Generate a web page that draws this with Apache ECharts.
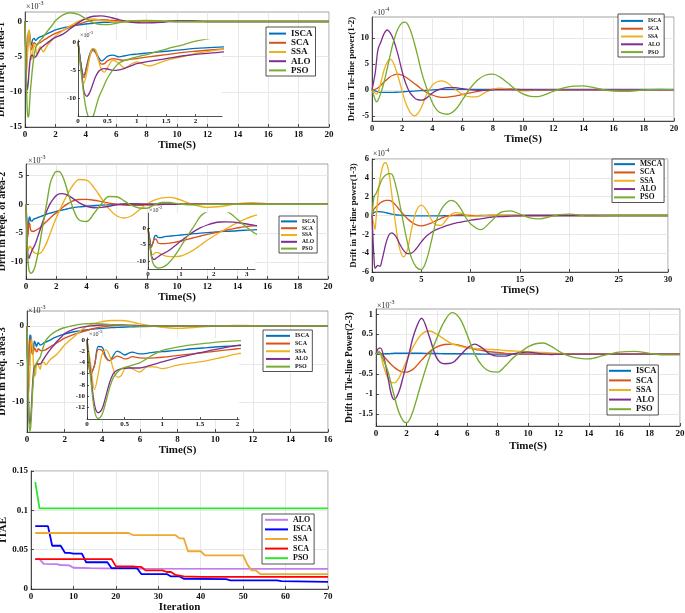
<!DOCTYPE html>
<html><head><meta charset="utf-8">
<script src="https://cdn.jsdelivr.net/npm/echarts@6/dist/echarts.min.js"></script>
<style>html,body{margin:0;padding:0;background:#fff}#c{width:685px;height:613px}</style>
</head><body><div id="c"></div>
<script>
// ---------------- DATA ----------------
const algNames = ['ISCA','SCA','SSA','ALO','PSO'];
const algNames13 = ['MSCA','SCA','SSA','ALO','PSO'];
const itaeNames = ['ALO','ISCA','SSA','SCA','PSO'];

// Drift in freq. of area-1 (x1e-3)
const t_area1 = [0,0.05,0.1,0.15,0.2,0.25,0.3,0.35,0.4,0.45,0.5,0.6,0.7,0.8,0.9,1.0,1.2,1.5,1.8,2.0,2.5,3,3.5,4,4.5,5,5.5,6,7,8,9,10,11,12,14,16,18,20];
const area1_ISCA = [0,-4,-6,-4.2,-2.2,-1.3,-1.7,-2.8,-3.4,-3.1,-2.6,-2.4,-2.7,-2.5,-2.3,-2.2,-2.0,-1.7,-1.4,-1.2,-0.9,-0.7,-0.5,-0.35,-0.25,-0.15,-0.1,-0.05,0,0.05,0.05,0,0,0,0,0,0,0];
const area1_SCA = [0,-4.2,-6.4,-4.5,-2.5,-1.6,-2.0,-3.2,-4.0,-3.9,-3.4,-3.0,-3.2,-3.3,-3.1,-3.0,-2.7,-2.3,-1.9,-1.7,-1.25,-0.8,-0.4,-0.05,0.2,0.25,0.2,0.1,0,-0.05,0,0,0,0,0,0,0,0];
const area1_SSA = [0,-4.8,-7.4,-5.5,-2.8,-1.2,-1.5,-3.4,-5.0,-5.4,-4.6,-3.3,-3.9,-4.7,-4.0,-3.6,-4.3,-3.3,-2.6,-2.1,-1.3,-0.6,0,0.35,0.35,0.2,0.05,-0.05,-0.1,-0.1,0,0.05,0,0,0,0,0,0];
const area1_ALO = [0,-4,-8.8,-9.7,-9.0,-7.6,-6.2,-5.3,-4.9,-4.8,-4.85,-5.1,-5.0,-4.7,-4.3,-3.9,-3.5,-3.0,-2.5,-2.25,-1.8,-1.0,-0.2,0.4,0.75,0.8,0.65,0.35,-0.1,-0.2,-0.1,0.1,0.1,0,0,0,0,0];
const area1_PSO = [0,-5,-9.5,-12.5,-13.6,-13.4,-11.8,-10,-8.8,-7.6,-6.5,-4.9,-3.8,-3.3,-3.0,-2.7,-2.2,-1.3,-0.5,0.1,0.95,1.25,1.0,0.4,-0.2,-0.45,-0.45,-0.25,0.1,0.15,0.05,0,0,0,0,0,0,0];

// Drift in Tie-line power(1-2) (x1e-4)
const t_tie12 = [0,0.2,0.3,0.4,0.6,0.8,1.0,1.2,1.4,1.7,2.0,2.2,2.5,2.8,3.0,3.3,3.6,4.0,4.3,4.6,5.0,5.5,6.0,6.5,7.0,7.5,8.0,8.5,9.0,9.5,10,10.5,11,11.5,12,13,14,15,16,17,18,19,20];
const tie12_ISCA = [0,-0.2,-0.3,-0.4,-0.5,-0.5,-0.5,-0.5,-0.5,-0.45,-0.4,-0.35,-0.3,-0.25,-0.2,-0.15,-0.1,0,0.05,0.1,0.1,0.1,0.1,0.1,0.1,0.1,0.1,0.1,0.1,0.1,0.1,0.1,0.1,0.1,0.1,0.1,0.1,0.1,0.1,0.1,0.1,0.1,0.1];
const tie12_SCA = [0,0.1,0.2,0.4,0.9,1.5,2.0,2.5,2.8,3.0,2.8,2.5,1.9,1.2,0.8,0.1,-0.5,-1.0,-1.3,-1.45,-1.4,-1.2,-0.9,-0.6,-0.3,-0.05,0.1,0.2,0.2,0.1,0,-0.05,-0.1,-0.05,0,0,0,0,0,0,0,0,0];
const tie12_SSA = [0,-0.6,-0.8,-0.5,1.5,3.8,5.3,5.9,5.3,2.8,-0.3,-2.3,-4.2,-5.0,-4.7,-3.2,-1.0,0.9,1.5,1.7,1.3,0.1,-0.9,-1.35,-1.3,-0.5,0.1,0.3,0.15,-0.05,-0.2,-0.15,-0.05,0,0.05,0,0,0,0,0,0,0,0];
const tie12_ALO = [0,3.0,5.5,7.8,9.3,10.8,11.5,11.0,9.8,7.0,3.5,1.5,-0.5,-1.5,-1.9,-2.0,-1.6,-0.6,-0.1,0.2,0.4,0.4,0.2,0,-0.1,-0.1,-0.05,0,0,0,0,0,0,0,0,0,0,0,0,0,0,0,0];
const tie12_PSO = [0,-1.8,-2.3,-2.0,-0.5,1.5,4.0,6.6,9.0,11.6,12.9,13.0,11.8,9.0,6.8,3.2,0.5,-2.5,-3.9,-4.5,-4.7,-3.9,-1.9,0.3,1.9,2.8,3.0,2.4,1.3,0.1,-0.8,-1.25,-1.3,-0.9,-0.3,0.55,0.75,0.2,-0.25,-0.3,0,0.1,0.05];

// Drift in freqe. of area-2 (x1e-3)
const t_area2 = [0,0.05,0.1,0.15,0.2,0.25,0.3,0.4,0.5,0.6,0.8,1.0,1.2,1.4,1.6,1.8,2.0,2.2,2.4,2.6,2.8,3.0,3.2,3.5,4,4.5,5,5.5,6,6.5,7,7.5,8,8.5,9,9.5,10,11,12,13,14,15,16,18,20];
const area2_ISCA = [0,-3,-5.3,-4.5,-2.5,-2.2,-2.8,-2.9,-2.6,-2.5,-2.3,-2.1,-1.9,-1.7,-1.55,-1.4,-1.25,-1.1,-1.0,-0.9,-0.75,-0.65,-0.55,-0.45,-0.35,-0.25,-0.15,-0.1,-0.05,0,0,0,0,0,0,0,0,0,0,0,0,0,0,0,0];
const area2_SCA = [0,-3.5,-5.9,-4.5,-3.3,-3.4,-4.4,-4.7,-4.7,-4.6,-4.3,-3.9,-3.4,-2.9,-2.4,-1.9,-1.5,-1.05,-0.6,-0.2,0.15,0.45,0.65,0.82,0.85,0.7,0.45,0.2,0,-0.15,-0.2,-0.2,-0.15,-0.1,-0.05,0,0,0,0,0,0,0,0,0,0];
const area2_SSA = [0,-4.5,-7.5,-8.0,-7.6,-7.3,-7.4,-7.8,-8.3,-8.5,-8.6,-8.4,-7.6,-6.5,-5.1,-3.7,-2.4,-1.2,-0.1,1.0,2.0,2.9,3.6,4.3,4.2,2.9,1.0,-0.8,-2.0,-2.4,-2.0,-1.0,0,0.7,1.1,1.2,0.95,0,-0.55,-0.35,0.1,0.25,0.1,0,0];
const area2_ALO = [0,-4,-8,-9.3,-9.4,-9.0,-8.7,-8.0,-7.5,-7.0,-5.5,-3.9,-2.4,-1.0,0.1,0.9,1.5,1.8,1.85,1.75,1.5,1.2,0.85,0.3,-0.35,-0.6,-0.55,-0.35,-0.1,0.05,0.1,0.05,0,0,0,0,0,0,0,0,0,0,0,0,0];
const area2_PSO = [0,-5,-8.5,-10.5,-11.4,-11.8,-12.0,-11.9,-11.5,-10.8,-8.5,-5.5,-2.4,0.6,3.6,5.0,5.7,5.7,5.0,3.6,1.8,0.2,-1.3,-2.7,-3.0,-1.6,0.1,1.35,1.3,0.6,-0.2,-0.65,-0.7,-0.1,0.3,0.3,0.1,-0.1,0,0,0,0,0,0,0];

// Drift in Tie-line power(1-3) (x1e-4)
const t_tie13 = [0,0.2,0.3,0.4,0.6,0.8,1.0,1.2,1.4,1.7,2.0,2.4,2.8,3.2,3.6,4.0,4.5,5.0,5.5,6.0,6.5,7.0,7.5,8.0,8.5,9.0,9.5,10,11,12,13,14,15,16,17,18,19,20,22,25,30];
const tie13_MSCA = [0,0.3,0.35,0.4,0.42,0.4,0.38,0.35,0.3,0.22,0.15,0.08,0.03,0,-0.02,-0.03,-0.03,-0.03,-0.03,-0.03,-0.03,-0.03,-0.02,-0.02,-0.02,-0.02,-0.01,-0.01,0,0,0,0,0,0,0,0,0,0,0,0,0];
const tie13_SCA = [0,0.7,0.8,0.9,1.1,1.3,1.45,1.55,1.6,1.6,1.5,1.1,0.6,0.1,-0.35,-0.7,-1.0,-1.1,-1.0,-0.8,-0.55,-0.3,-0.1,0,0.05,0.08,0.05,0,-0.02,0,0,0,0,0,0,0,0,0,0,0,0];
const tie13_SSA = [0,-1.0,-1.5,-0.5,2.0,3.8,4.9,5.5,5.6,4.6,2.3,-1.0,-3.5,-4.4,-3.6,-1.5,0.5,1.1,0.6,-0.4,-1.0,-1.05,-0.5,0.1,0.3,0.25,0.05,-0.1,-0.05,0.05,0.05,0,0,0,0,0,0,0,0,0,0];
const tie13_ALO = [0,-4.5,-5.6,-5.5,-5.3,-5.4,-4.8,-3.9,-3.0,-2.1,-1.85,-2.2,-3.0,-3.7,-4.05,-4.0,-3.5,-2.8,-2.2,-1.8,-1.5,-1.3,-1.1,-0.95,-0.8,-0.7,-0.6,-0.5,-0.35,-0.2,-0.12,-0.07,-0.03,0,0,0,0,0,0,0,0];
const tie13_PSO = [0,2.0,2.2,2.3,2.8,3.3,3.8,4.1,4.3,4.45,4.4,3.2,1.3,-0.9,-2.9,-4.5,-5.5,-5.75,-4.8,-2.8,-0.6,0.6,1.3,1.6,1.4,0.7,-0.2,-0.9,-1.5,-0.7,0.3,0.5,0.15,-0.25,-0.35,-0.15,0.1,0.15,-0.05,0,0];

// Drift in freq. area-3 (x1e-3)
const t_area3 = [0,0.05,0.1,0.15,0.2,0.25,0.3,0.35,0.4,0.45,0.5,0.55,0.6,0.7,0.8,0.9,1.0,1.2,1.4,1.6,1.8,2.0,2.5,3,3.5,4,4.5,5,5.5,6,7,8,9,10,11,12,14,16];
const area3_ISCA = [0,-6.0,-4.5,-1.2,-1.3,-3.0,-3.7,-2.8,-2.0,-2.3,-2.7,-2.4,-2.2,-2.5,-2.4,-2.2,-2.1,-1.9,-1.6,-1.4,-1.2,-1.05,-0.75,-0.55,-0.4,-0.3,-0.2,-0.15,-0.1,-0.05,-0.02,0,0,0,0,0,0,0];
const area3_SCA = [0,-6.2,-4.5,-1.7,-1.9,-3.2,-3.7,-3.3,-2.9,-3.1,-3.4,-3.3,-3.0,-3.2,-3.25,-3.2,-3.1,-2.8,-2.5,-2.2,-1.9,-1.6,-1.1,-0.7,-0.35,-0.1,0.05,0.1,0.1,0.05,0,0,0,0,0,0,0,0];
const area3_SSA = [0,-4.5,-8.8,-6.0,-2.6,-1.8,-2.8,-5.2,-6.6,-6.4,-5.2,-4.8,-5.1,-5.7,-4.8,-4.8,-5.1,-4.5,-4.1,-3.7,-3.1,-2.5,-1.4,-0.3,0.3,0.6,0.75,0.75,0.6,0.3,-0.1,-0.3,-0.15,0,0.1,0.05,0,0];
const area3_ALO = [0,-6,-11.5,-12.9,-12.2,-10,-7.6,-6.0,-5.4,-5.15,-5.05,-5.0,-5.0,-5.0,-4.7,-4.3,-3.9,-3.2,-2.6,-2.0,-1.5,-1.0,-0.4,-0.1,0.05,0.15,0.2,0.15,0.1,0.05,0,0,0,0,0,0,0,0];
const area3_PSO = [0,-7,-12.5,-13.9,-13.2,-11,-8.5,-6.7,-5.8,-5.2,-4.9,-4.7,-4.5,-4.1,-3.3,-2.5,-1.9,-1.3,-0.9,-0.6,-0.35,-0.2,0.1,0.3,0.35,0.3,0.2,0.1,0.05,0,0,0,0,0,0,0,0,0];

// Drift in Tie-line Power(2-3) (x1e-3)
const t_tie23 = [0,0.2,0.3,0.5,0.8,1.0,1.2,1.5,1.8,2.0,2.2,2.5,3.0,3.5,4.0,4.5,5.0,5.5,6.0,6.5,7.0,7.5,8.0,8.5,9.0,9.5,10,10.5,11,11.5,12,12.5,13,14,15,16,17,18,19,20];
const tie23_ISCA = [0,0,0,0.005,0.01,0.015,0.02,0.02,0.02,0.02,0.02,0.02,0.02,0.015,0.015,0.01,0.01,0.01,0.005,0.005,0,0,0,0,0,0,0,0,0,0,0,0,0,0,0,0,0,0,0,0];
const tie23_SCA = [0,0.05,0.03,-0.05,-0.18,-0.26,-0.33,-0.41,-0.45,-0.45,-0.43,-0.36,-0.15,0.05,0.18,0.24,0.25,0.22,0.17,0.12,0.09,0.06,0.04,0.02,0.01,0,0,0,0,0,0,0,0,0,0,0,0,0,0,0];
const tie23_SSA = [0,0.08,0,-0.3,-0.62,-0.71,-0.72,-0.6,-0.35,-0.18,0,0.22,0.5,0.58,0.5,0.37,0.26,0.2,0.16,0.14,0.13,0.12,0.11,0.09,0.08,0.07,0.06,0.05,0.04,0.03,0.02,0.01,0,0,0,0,0,0,0,0];
const tie23_ALO = [0,0.15,0.15,-0.05,-0.6,-1.0,-1.14,-0.95,-0.55,-0.25,0.05,0.5,0.9,0.45,-0.1,-0.24,-0.22,-0.05,0.15,0.25,0.15,0,-0.05,-0.05,0,0.04,0.05,0.03,0,-0.01,0,0,0,0,0,0,0,0,0,0];
const tie23_PSO = [0,0.05,0.02,-0.15,-0.45,-0.75,-1.05,-1.45,-1.68,-1.72,-1.65,-1.35,-0.7,-0.1,0.4,0.82,1.04,0.9,0.48,0,-0.3,-0.43,-0.45,-0.3,-0.1,0.05,0.18,0.26,0.28,0.2,0.08,-0.02,-0.08,-0.12,-0.03,0.05,0.07,0.02,-0.02,-0.02];

// ITAE convergence
const itae_it_ALO = [1,2,3,6,7,9,10,14,20,70];
const itae_ALO = [0.038,0.038,0.032,0.0315,0.0305,0.030,0.027,0.0265,0.026,0.0255];
const itae_it_ISCA = [1,4,5,7,8,9,10,12,13,18,19,25,26,32,33,35,36,46,47,58,59,70];
const itae_ISCA = [0.080,0.080,0.055,0.055,0.046,0.046,0.045,0.045,0.034,0.034,0.0265,0.0265,0.019,0.019,0.016,0.016,0.013,0.0125,0.011,0.011,0.010,0.009];
const itae_it_SSA = [1,23,24,34,35,36,37,40,41,50,51,52,53,54,70];
const itae_SSA = [0.0712,0.0712,0.0686,0.0686,0.0644,0.0644,0.048,0.048,0.0428,0.0428,0.031,0.0237,0.0237,0.019,0.019];
const itae_it_SCA = [1,19,20,24,25,26,27,31,32,33,34,36,40,70];
const itae_SCA = [0.038,0.038,0.0288,0.0288,0.028,0.028,0.0237,0.0237,0.0216,0.0216,0.018,0.016,0.0155,0.0155];
const itae_it_PSO = [1,2,70];
const itae_PSO = [0.136,0.1025,0.1025];

// tick labels
const ticks_t20 = [0,2,4,6,8,10,12,14,16,18,20];
const ticks_t16 = [0,2,4,6,8,10,12,14,16];
const ticks_t30 = [0,5,10,15,20,25,30];
const ticks_inset1x = [0,0.5,1,1.5,2];
const ticks_inset2x = [0,1,2,3];
const ticks_area1y = [-15,-10,-5,0];
const ticks_insety5 = [-10,-5,0];
const ticks_tie12y = [-5,0,5,10];
const ticks_area2y = [-10,-5,0,5];
const ticks_tie13y = [-6,-4,-2,0,2,4,6];
const ticks_area3y = [-10,-5,0];
const ticks_inset3y = [-12,-10,-8,-6,-4,-2,0];
const ticks_tie23y = [-1.5,-1,-0.5,0,0.5,1];
const ticks_itaex = [0,10,20,30,40,50,60,70];
const ticks_itaey = [0,0.05,0.1,0.15];

// ---------------- STYLE / BUILD ----------------
const FONT = '"Liberation Serif","Times New Roman",serif';
const matlab = ['#0072BD','#D95319','#EDB120','#7E2F8E','#77AC30'];
const itaeColors = ['#C07CF0','#0000FF','#F0A830','#FF0000','#2EE62E'];

const grids=[], xAxes=[], yAxes=[], series=[], legends=[], graphics=[];

function addGrid(l,t,w,h,inset){
  grids.push({left:l, top:t, width:w, height:h, show:true, containLabel:false, outerBoundsMode:'none',
    backgroundColor: inset ? '#ffffff' : 'rgba(0,0,0,0)',
    borderColor: inset ? 'rgba(0,0,0,0)' : '#8a8a8a', borderWidth: inset ? 0 : 0.8,
    z: inset ? 1.5 : 0});
  return grids.length-1;
}
function mkAxis(gi, min, max, ticks, fs, inset, name, nameGap, nameFs, isY){
  const a = {type:'value', gridIndex:gi, min:min, max:max, scale:false,
    axisLine:{show:true, onZero:false, lineStyle:{color:'#262626', width:0.8}},
    axisTick:{show:true, inside:true, length:inset?2:3, customValues:ticks, lineStyle:{color:'#262626', width:0.8}},
    axisLabel:{show:true, customValues:ticks, fontFamily:FONT, fontWeight:'bold', fontSize:fs, color:'#111', margin:inset?2:3, hideOverlap:false, showMinLabel:true, showMaxLabel:true},
    splitLine:{show:!inset, lineStyle:{color:'#e2e2e2', width:0.8}},
    z: inset ? 3 : 0, zlevel:0};
  if(name){
    a.name=name; a.nameLocation='middle'; a.nameGap=nameGap;
    a.nameTextStyle={fontFamily:FONT, fontWeight:'bold', fontSize:nameFs, color:'#111'};
    if(isY) a.nameRotate=90;
  }
  return a;
}
function zip(t,v){ return t.map((x,i)=>[x,v[i]]); }
function addLines(xi, yi, t, arrs, nm, cols, z, w){
  arrs.forEach((a,k)=>series.push({type:'line', name:nm[k], xAxisIndex:xi, yAxisIndex:yi,
    data:zip(t,a), showSymbol:false, symbol:'none', smooth:0.35, clip:true,
    lineStyle:{color:cols[k], width:w}, itemStyle:{color:cols[k]}, z:z, animation:false}));
}
function addLegend(l,t,nm,cols,fs,lh,iw,pad){
  legends.push({show:true, orient:'vertical', left:l, top:t, padding:pad, itemGap:0,
    itemWidth:iw, itemHeight:2, icon:'rect', selectedMode:false,
    backgroundColor:'#fff', borderColor:'#262626', borderWidth:0.8, borderRadius:0,
    textStyle:{fontFamily:FONT, fontWeight:'bold', fontSize:fs, lineHeight:lh, color:'#111'},
    data:nm.map((n,k)=>({name:n, itemStyle:{color:cols[k]}})), z:20});
}
function sci(x,y,exp,fs){
  graphics.push({type:'text', x:x, y:y, z:100, style:{text:'×10', fontFamily:FONT, fontSize:fs, fill:'#262626', verticalAlign:'top'}});
  graphics.push({type:'text', x:x+fs*1.55, y:y-fs*0.35, z:100, style:{text:exp, fontFamily:FONT, fontSize:fs*0.75, fill:'#262626', verticalAlign:'top'}});
}

// Panel 1 : area-1
let g = addGrid(25,12,304,115,false);
xAxes.push(mkAxis(g,0,20,ticks_t20,9,false,'Time(S)',12,11,false));
yAxes.push(mkAxis(g,-15,1.35,ticks_area1y,9,false,'Drift in freq. of area-1',13.5,10,true));
addLines(xAxes.length-1, yAxes.length-1, t_area1, [area1_ISCA,area1_SCA,area1_SSA,area1_ALO,area1_PSO], algNames, matlab, 1, 1.4);
sci(26,3,'-3',8);
// inset 1
g = addGrid(78,40,144,76,true);
xAxes.push(mkAxis(g,0,2.45,ticks_inset1x,7,true));
yAxes.push(mkAxis(g,-13.2,0.3,ticks_insety5,7,true));
addLines(xAxes.length-1, yAxes.length-1, t_area1, [area1_ISCA,area1_SCA,area1_SSA,area1_ALO,area1_PSO], algNames, matlab, 2, 1.3);
sci(80,32,'-3',6);
addLegend(266,27,algNames,matlab,9,9.2,17,[2,3,1,3]);

// Panel 2 : tie-line 1-2
g = addGrid(372,17,302,104,false);
xAxes.push(mkAxis(g,0,20,ticks_t20,8.5,false,'Time(S)',10,11,false));
yAxes.push(mkAxis(g,-6,14,ticks_tie12y,8.5,false,'Drift in Tie-line power(1-2)',16,9,true));
addLines(xAxes.length-1, yAxes.length-1, t_tie12, [tie12_ISCA,tie12_SCA,tie12_SSA,tie12_ALO,tie12_PSO], algNames, matlab, 1, 1.3);
sci(373,9,'-4',7.5);
addLegend(618,14,algNames,matlab,5.5,7.8,22,[3,3,1,3]);

// Panel 3 : area-2
g = addGrid(26,164,302,115,false);
xAxes.push(mkAxis(g,0,20,ticks_t20,9,false,'Time(S)',12,11,false));
yAxes.push(mkAxis(g,-13,7,ticks_area2y,9,false,'Drift in freqe. of area-2',14.5,10,true));
addLines(xAxes.length-1, yAxes.length-1, t_area2, [area2_ISCA,area2_SCA,area2_SSA,area2_ALO,area2_PSO], algNames, matlab, 1, 1.4);
sci(28,157,'-3',8);
// inset 2
g = addGrid(148,213,107,56,true);
xAxes.push(mkAxis(g,0,3.25,ticks_inset2x,7,true));
yAxes.push(mkAxis(g,-12.3,4.5,ticks_insety5,7,true));
addLines(xAxes.length-1, yAxes.length-1, t_area2, [area2_ISCA,area2_SCA,area2_SSA,area2_ALO,area2_PSO], algNames, matlab, 2, 1.3);
sci(149,207,'-3',6);
addLegend(279,216,algNames,matlab,5.5,6.8,16,[2,2,1,2]);

// Panel 4 : tie-line 1-3
g = addGrid(372,159,296,113,false);
xAxes.push(mkAxis(g,0,30,ticks_t30,8.5,false,'Time(S)',12,11,false));
yAxes.push(mkAxis(g,-6,6,ticks_tie13y,8.5,false,'Drift in Tie-line power(1-3)',14,9,true));
addLines(xAxes.length-1, yAxes.length-1, t_tie13, [tie13_MSCA,tie13_SCA,tie13_SSA,tie13_ALO,tie13_PSO], algNames13, matlab, 1, 1.3);
sci(373,150,'-4',7.5);
addLegend(612,159,algNames13,matlab,7.5,8.3,21,[1,2,1,2]);

// Panel 5 : area-3
g = addGrid(27,311,301,121,false);
xAxes.push(mkAxis(g,0,16,ticks_t16,9,false,'Time(S)',13,11,false));
yAxes.push(mkAxis(g,-14,2,ticks_area3y,9,false,'Drift in freq. area-3',15.5,10.5,true));
addLines(xAxes.length-1, yAxes.length-1, t_area3, [area3_ISCA,area3_SCA,area3_SSA,area3_ALO,area3_PSO], algNames, matlab, 1, 1.4);
sci(28,307,'-3',8);
// inset 3
g = addGrid(87,338,152,81,true);
xAxes.push(mkAxis(g,0,2.02,ticks_inset1x,7,true));
yAxes.push(mkAxis(g,-14,0.3,ticks_inset3y,7,true));
addLines(xAxes.length-1, yAxes.length-1, t_area3, [area3_ISCA,area3_SCA,area3_SSA,area3_ALO,area3_PSO], algNames, matlab, 2, 1.3);
sci(89,331,'-3',6);
addLegend(263,330,algNames,matlab,6,7.7,24,[2,3,1,3]);

// Panel 6 : tie-line 2-3
g = addGrid(376,309,304,117,false);
xAxes.push(mkAxis(g,0,20,ticks_t20,9,false,'Time(S)',15,11,false));
yAxes.push(mkAxis(g,-1.8,1.13,ticks_tie23y,9,false,'Drift in Tie-line Power(2-3)',20,9.5,true));
addLines(xAxes.length-1, yAxes.length-1, t_tie23, [tie23_ISCA,tie23_SCA,tie23_SSA,tie23_ALO,tie23_PSO], algNames, matlab, 1, 1.4);
sci(377,302,'-3',8);
addLegend(607,365,algNames,matlab,8.5,9.6,22,[1,2,1,2]);

// Panel 7 : ITAE
g = addGrid(31,471,297,118,false);
xAxes.push(mkAxis(g,0,70,ticks_itaex,9,false,'Iteration',13,11,false));
yAxes.push(mkAxis(g,0,0.15,ticks_itaey,9,false,'ITAE',17.5,11,true));
const itaeSets = [[itae_it_ALO,itae_ALO],[itae_it_ISCA,itae_ISCA],[itae_it_SSA,itae_SSA],[itae_it_SCA,itae_SCA],[itae_it_PSO,itae_PSO]];
itaeSets.forEach((s,k)=>series.push({type:'line', name:itaeNames[k], xAxisIndex:xAxes.length-1, yAxisIndex:yAxes.length-1,
  data:zip(s[0],s[1]), showSymbol:false, symbol:'none', smooth:false, clip:true,
  lineStyle:{color:itaeColors[k], width:1.8}, itemStyle:{color:itaeColors[k]}, z:1, animation:false}));
addLegend(262,514,itaeNames,itaeColors,8,9.6,23,[1,2,1,3]);

const chart = echarts.init(document.getElementById('c'), null, {renderer:'canvas'});
chart.setOption({animation:false, backgroundColor:'#fff', grid:grids, xAxis:xAxes, yAxis:yAxes, series:series, legend:legends, graphic:{elements:graphics}});
</script></body></html>
